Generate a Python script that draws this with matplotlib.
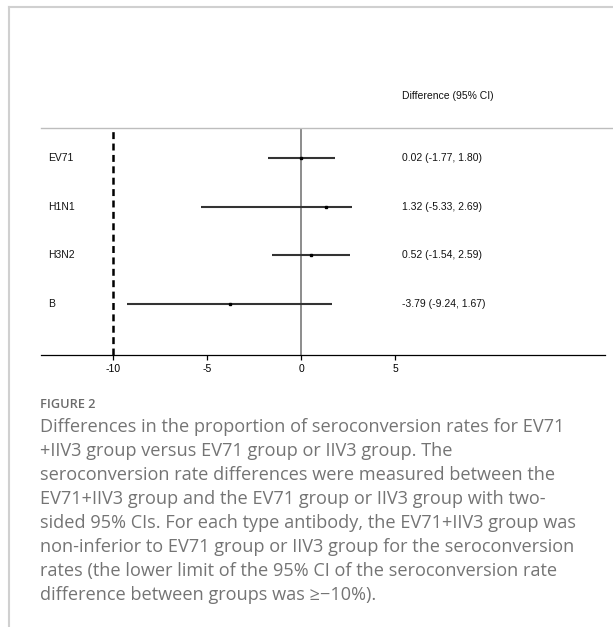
import matplotlib
matplotlib.use("Agg")
import matplotlib.pyplot as plt
from matplotlib.lines import Line2D

# ---- data ----
categories = ["EV71", "H1N1", "H3N2", "B"]
estimates = [0.02, 1.32, 0.52, -3.79]
lower = [-1.77, -5.33, -1.54, -9.24]
upper = [1.80, 2.69, 2.59, 1.67]
ci_labels = ["0.02 (-1.77, 1.80)", "1.32 (-5.33, 2.69)",
             "0.52 (-1.54, 2.59)", "-3.79 (-9.24, 1.67)"]
margin = -10
xticks = [-10, -5, 0, 5]
header = "Difference (95% CI)"
fig_label = "FIGURE 2"
caption_lines = [
    "Differences in the proportion of seroconversion rates for EV71",
    "+IIV3 group versus EV71 group or IIV3 group. The",
    "seroconversion rate differences were measured between the",
    "EV71+IIV3 group and the EV71 group or IIV3 group with two-",
    "sided 95% CIs. For each type antibody, the EV71+IIV3 group was",
    "non-inferior to EV71 group or IIV3 group for the seroconversion",
    "rates (the lower limit of the 95% CI of the seroconversion rate",
    "difference between groups was \u2265\u221210%).",
]

plt.rcParams['font.family'] = ['Liberation Sans', 'DejaVu Sans']
plt.rcParams['lines.scale_dashes'] = False

W, H = 613, 627
fig = plt.figure(figsize=(W / 100, H / 100), dpi=100)

def fx(px):
    return px / W

def fy(py):
    return 1 - py / H

ax_l, ax_r, ax_t, ax_b = 41, 605, 128, 355
ax = fig.add_axes([fx(ax_l), fy(ax_b), fx(ax_r - ax_l), (ax_b - ax_t) / H])

n = len(categories)
ypos = list(range(n, 0, -1))

ax.set_xlim(-13.83, 16.17)
ax.set_ylim(-0.047, n + 0.616)

# zero line and margin line
ax.axvline(0, color="#6e6e6e", lw=1.1, zorder=1)
ax.axvline(margin, color="black", lw=1.8, dashes=(5.0, 3.2), zorder=1)

fs = 7.5
for i in range(n):
    ax.plot([lower[i], upper[i]], [ypos[i], ypos[i]], color="#333333",
            lw=1.5, solid_capstyle="butt", zorder=2)
    ax.plot(estimates[i], ypos[i], marker="s", color="black",
            markersize=1.8, zorder=3)
    ax.text(0.012, ypos[i], categories[i], transform=ax.get_yaxis_transform(),
            ha="left", va="center", fontsize=fs, color="#111111")
    ax.text(5.37, ypos[i], ci_labels[i], ha="left", va="center",
            fontsize=fs, color="#111111")

ax.text(5.37, n + 1.27, header, ha="left", va="center", fontsize=fs,
        color="#111111", clip_on=False)

for s in ["left", "right", "top"]:
    ax.spines[s].set_visible(False)
ax.spines["bottom"].set_color("black")
ax.spines["bottom"].set_linewidth(0.9)
ax.set_yticks([])
ax.set_xticks(xticks)
ax.set_xticklabels([str(t) for t in xticks])
ax.tick_params(axis="x", direction="out", length=3.5, width=0.9,
               labelsize=fs, pad=3, colors="black")

# top rule spanning to right edge
fig.add_artist(Line2D([fx(ax_l), 1.0], [fy(ax_t), fy(ax_t)],
                      color="#bdbdbd", lw=1.0))

# page frame lines
fig.add_artist(Line2D([fx(9), fx(9)], [fy(7), 0], color="#d0d0d0", lw=1.5))
fig.add_artist(Line2D([fx(9), 1.0], [fy(7), fy(7)], color="#d0d0d0", lw=1.5))

# caption
fig.text(fx(40), fy(405), fig_label, ha="left", va="center",
         fontsize=9.2, fontweight="semibold", color="#6b6b6b",
         family=["Open Sans", "DejaVu Sans"])
for k, line in enumerate(caption_lines):
    fig.text(fx(40), fy(427 + 24 * k), line, ha="left", va="center",
             fontsize=13.1, fontweight="normal", color="#747474",
             family=["Open Sans", "DejaVu Sans"])

fig.savefig("out.png", dpi=100)
